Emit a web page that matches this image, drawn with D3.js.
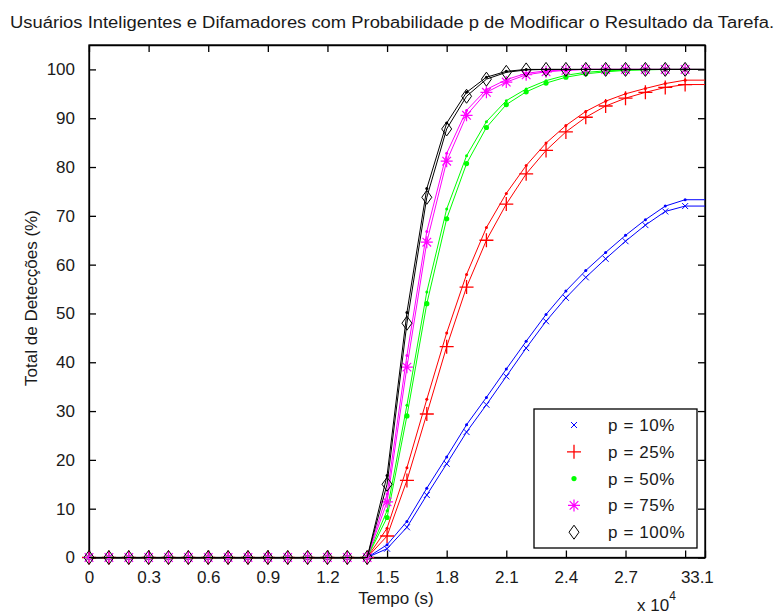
<!DOCTYPE html>
<html>
<head>
<meta charset="utf-8">
<script src="https://cdn.jsdelivr.net/npm/d3@7"></script>
<style>
  html, body { margin: 0; padding: 0; background: #fff; }
  svg { display: block; }
  text { font-family: "Liberation Sans", Arial, sans-serif; fill: #1a1a1a; }
</style>
</head>
<body>
<svg id="chart" width="780" height="615"></svg>
<script>
// ---------- data ----------
const titleText = "Usuários Inteligentes e Difamadores com Probabilidade p de Modificar o Resultado da Tarefa.";
const xLabel = "Tempo (s)";
const yLabel = "Total de Detecções (%)";
const xTickValues = [0, 0.3, 0.6, 0.9, 1.2, 1.5, 1.8, 2.1, 2.4, 2.7, 3.0, 3.1];
const xTickLabels = ["0", "0.3", "0.6", "0.9", "1.2", "1.5", "1.8", "2.1", "2.4", "2.7", "3", "3.1"];
const yTickValues = [0, 10, 20, 30, 40, 50, 60, 70, 80, 90, 100];

// time (x 10^4 s)
const time = [0, 0.1, 0.2, 0.3, 0.4, 0.5, 0.6, 0.7, 0.8, 0.9, 1.0, 1.1, 1.2, 1.3, 1.4,
              1.5, 1.6, 1.7, 1.8, 1.9, 2.0, 2.1, 2.2, 2.3, 2.4, 2.5, 2.6, 2.7, 2.8, 2.9, 3.0, 3.1];

const labels = ["p = 10%", "p = 25%", "p = 50%", "p = 75%", "p = 100%"];
const colors = ["#0000ff", "#ff0000", "#00ff00", "#ff00ff", "#000000"];
const markers = ["x", "plus", "dot", "star", "diamond"];

// upper curve of each pair
const p10a  = [0,0,0,0,0,0,0,0,0,0,0,0,0,0,0, 2.6, 7.4, 14.2, 20.6, 27.2, 32.8, 38.6, 44.3, 49.8, 54.6, 58.8, 62.5, 66.0, 69.2, 72.0, 73.3, 73.3];
const p25a  = [0,0,0,0,0,0,0,0,0,0,0,0,0,0,0, 6.0, 18.4, 32.4, 46.0, 58.0, 67.6, 74.6, 80.3, 84.9, 88.5, 91.4, 93.5, 95.0, 96.1, 97.1, 97.8, 97.8];
const p50a  = [0,0,0,0,0,0,0,0,0,0,0,0,0,0,0, 9.6, 31.2, 54.4, 71.4, 82.3, 89.3, 93.6, 96.0, 97.7, 98.8, 99.4, 99.7, 99.9, 100, 100, 100, 100];
const p75a  = [0,0,0,0,0,0,0,0,0,0,0,0,0,0,0, 13.0, 41.4, 66.8, 82.8, 91.6, 95.9, 97.9, 99.2, 99.7, 99.9, 100, 100, 100, 100, 100, 100, 100];
const p100a = [0,0,0,0,0,0,0,0,0,0,0,0,0,0,0, 16.8, 50.2, 75.6, 89.0, 95.3, 98.4, 99.6, 100, 100, 100, 100, 100, 100, 100, 100, 100, 100];
// lower curve of each pair
const p10b  = [0,0,0,0,0,0,0,0,0,0,0,0,0,0,0, 1.8, 6.2, 12.8, 19.2, 25.7, 31.3, 37.1, 42.9, 48.4, 53.2, 57.4, 61.2, 64.8, 68.1, 70.9, 72.0, 72.0];
const p25b  = [0,0,0,0,0,0,0,0,0,0,0,0,0,0,0, 4.4, 15.8, 29.4, 43.2, 55.4, 65.0, 72.4, 78.6, 83.4, 87.2, 90.2, 92.5, 94.1, 95.3, 96.3, 96.9, 96.9];
const p50b  = [0,0,0,0,0,0,0,0,0,0,0,0,0,0,0, 8.2, 29.0, 52.0, 69.4, 80.7, 88.1, 92.8, 95.4, 97.2, 98.4, 99.1, 99.5, 99.8, 99.9, 100, 100, 100];
const p75b  = [0,0,0,0,0,0,0,0,0,0,0,0,0,0,0, 11.4, 39.0, 64.6, 81.2, 90.6, 95.3, 97.4, 98.9, 99.5, 99.8, 100, 100, 100, 100, 100, 100, 100];
const p100b = [0,0,0,0,0,0,0,0,0,0,0,0,0,0,0, 15.0, 48.0, 73.8, 87.8, 94.5, 98.0, 99.4, 99.9, 100, 100, 100, 100, 100, 100, 100, 100, 100];

const seriesA = [p10a, p25a, p50a, p75a, p100a];
const seriesB = [p10b, p25b, p50b, p75b, p100b];
const markerEnd = 3.0; // markers drawn up to this time

// ---------- layout ----------
const svg = d3.select("#chart");
const L = 89, R = 705, T = 45, B = 557.5;
const x = d3.scaleLinear().domain([0, 3.1]).range([L, R]);
const y = d3.scaleLinear().domain([0, 105]).range([B, T]);

// title
svg.append("text").attr("x", 392).attr("y", 28).attr("text-anchor", "middle")
  .attr("font-size", 16).attr("textLength", 764).attr("lengthAdjust", "spacingAndGlyphs")
  .text(titleText);

// frame
svg.append("rect").attr("x", L).attr("y", T).attr("width", R - L).attr("height", B - T)
  .attr("fill", "none").attr("stroke", "#000").attr("stroke-width", 1.3);

// axes (ticks inward)
const xAxis = d3.axisBottom(x).tickValues(xTickValues)
  .tickFormat((d, i) => xTickLabels[i]).tickSizeInner(-7).tickSizeOuter(0).tickPadding(13);
const gx = svg.append("g").attr("transform", `translate(0,${B})`).call(xAxis);
// last two labels sit against each other, as in the reference ("33.1")
gx.selectAll(".tick text").filter((d, i) => i === xTickValues.length - 1).attr("dx", -3.5);
const xAxisTop = d3.axisTop(x).tickValues(xTickValues).tickFormat("").tickSizeInner(-7).tickSizeOuter(0);
const gxt = svg.append("g").attr("transform", `translate(0,${T})`).call(xAxisTop);
const yAxis = d3.axisLeft(y).tickValues(yTickValues).tickSizeInner(-7).tickSizeOuter(0).tickPadding(14);
const gy = svg.append("g").attr("transform", `translate(${L},0)`).call(yAxis);
const yAxisR = d3.axisRight(y).tickValues(yTickValues).tickFormat("").tickSizeInner(-7).tickSizeOuter(0);
const gyr = svg.append("g").attr("transform", `translate(${R},0)`).call(yAxisR);
[gx, gxt, gy, gyr].forEach(g => {
  g.select(".domain").attr("stroke", "#000").attr("stroke-width", 1.3);
  g.selectAll(".tick line").attr("stroke", "#000").attr("stroke-width", 1.3);
  g.selectAll(".tick text").attr("font-size", 17).attr("fill", "#1a1a1a")
    .attr("font-family", '"Liberation Sans", Arial, sans-serif');
});

// axis labels
svg.append("text").attr("x", 396).attr("y", 604).attr("text-anchor", "middle")
  .attr("font-size", 17).text(xLabel);
svg.append("text").attr("transform", "translate(37,298) rotate(-90)").attr("text-anchor", "middle")
  .attr("font-size", 17).text(yLabel);
const mult = svg.append("text").attr("x", 637).attr("y", 611).attr("font-size", 17);
mult.append("tspan").text("x 10");
mult.append("tspan").attr("dy", -11).attr("font-size", 12).text("4");

// ---------- markers ----------
function drawMarker(g, type, cx, cy, color) {
  if (type === "x") {
    const s = 3;
    g.append("path").attr("d", `M${cx - s},${cy - s}L${cx + s},${cy + s}M${cx - s},${cy + s}L${cx + s},${cy - s}`)
      .attr("stroke", color).attr("stroke-width", 1).attr("fill", "none");
  } else if (type === "plus") {
    const s = 7;
    g.append("path").attr("d", `M${cx - s},${cy}L${cx + s},${cy}M${cx},${cy - s}L${cx},${cy + s}`)
      .attr("stroke", color).attr("stroke-width", 1.3).attr("fill", "none");
  } else if (type === "dot") {
    g.append("circle").attr("cx", cx).attr("cy", cy).attr("r", 2.6).attr("fill", color);
  } else if (type === "star") {
    const s = 6, d = 4.3;
    g.append("path").attr("d",
      `M${cx - s},${cy}L${cx + s},${cy}M${cx},${cy - s}L${cx},${cy + s}` +
      `M${cx - d},${cy - d}L${cx + d},${cy + d}M${cx - d},${cy + d}L${cx + d},${cy - d}`)
      .attr("stroke", color).attr("stroke-width", 1.2).attr("fill", "none");
  } else if (type === "diamond") {
    const w = 5, h = 7;
    g.append("path").attr("d", `M${cx},${cy - h}L${cx + w},${cy}L${cx},${cy + h}L${cx - w},${cy}Z`)
      .attr("stroke", color).attr("stroke-width", 1).attr("fill", "none");
  } else if (type === "small") {
    g.append("circle").attr("cx", cx).attr("cy", cy).attr("r", 1.5).attr("fill", color);
  }
}

// ---------- lines ----------
const line = d3.line().x(d => x(d[0])).y(d => y(d[1]));
const plot = svg.append("g");
seriesA.forEach((vals, si) => {
  const g = plot.append("g");
  const a = time.map((t, i) => [t, vals[i]]);
  const b = time.map((t, i) => [t, seriesB[si][i]]);
  g.append("path").datum(a).attr("d", line).attr("fill", "none")
    .attr("stroke", colors[si]).attr("stroke-width", 1);
  g.append("path").datum(b).attr("d", line).attr("fill", "none")
    .attr("stroke", colors[si]).attr("stroke-width", 1);
  a.forEach(d => { if (d[0] <= markerEnd + 1e-9 && d[0] > 1.45) drawMarker(g, "small", x(d[0]), y(d[1]), colors[si]); });
  b.forEach(d => { if (d[0] <= markerEnd + 1e-9) drawMarker(g, markers[si], x(d[0]), y(d[1]), colors[si]); });
});

// ---------- legend ----------
const lg = svg.append("g");
const LX = 534, LY = 409, LW = 163, LH = 139;
lg.append("rect").attr("x", LX).attr("y", LY).attr("width", LW).attr("height", LH)
  .attr("fill", "#fff").attr("stroke", "#000").attr("stroke-width", 1.3);
labels.forEach((lab, i) => {
  const cy = LY + 16 + i * 26.8;
  drawMarker(lg, markers[i], LX + 40, cy, colors[i]);
  lg.append("text").attr("x", LX + 74).attr("y", cy + 6).attr("font-size", 17)
    .attr("letter-spacing", 0.6).text(lab);
});
</script>
</body>
</html>
